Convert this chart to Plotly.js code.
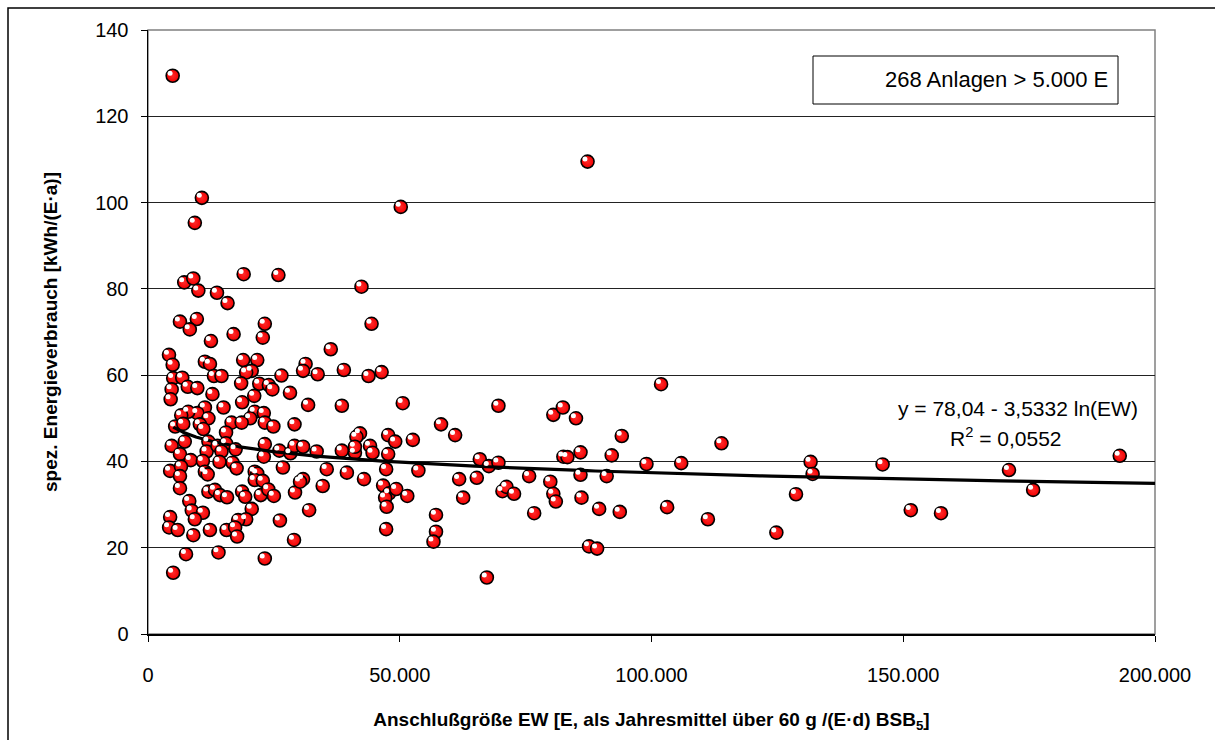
<!DOCTYPE html>
<html>
<head>
<meta charset="utf-8">
<script src="https://cdn.plot.ly/plotly-3.0.1.min.js"></script>
<style>
  html, body { margin: 0; padding: 0; background: #fff; }
  #chart { width: 1215px; height: 740px; }
</style>
</head>
<body>
<div id="chart"></div>
<script>
// Anschlußgröße EW (Einwohnerwerte)
const ew = [
  4900, 10700, 9300,
  7200, 9000, 10000, 13700, 15800, 19000, 25900, 6350, 9700, 8300, 12500, 17000, 23200, 22800,
  4170, 4900, 11300, 12300, 18900, 21700, 20600, 19500, 13100, 14600, 26500,
  5000, 6800, 4700, 7900, 9800, 4500, 12800, 18500, 22100, 24000, 24700, 28200, 21100, 18700,
  11300, 15000, 9800, 8000, 6600, 12000, 21200, 23000, 20300, 29100, 5400, 10300, 16600, 18600, 23200, 24900,
  7000, 11000, 15500, 4700, 7300, 6350, 12000, 11650, 13800, 15500, 14600, 17400, 23200, 23000, 26100, 28300, 29100,
  8500, 10900, 14200, 16800, 17600, 4400, 6550, 6350, 11300, 11850, 21200, 21700, 21200, 22800, 26800,
  6350, 12000, 13300, 14300, 15700, 18700, 19300, 22400, 23900, 25000, 29200,
  8200, 8700, 10900, 9300, 20600, 19500, 17900, 4400, 4200, 5900, 9000, 12300, 15600, 17300, 17700, 26200, 29000,
  7550, 14000, 23200, 5000,
  42400, 44400, 36300, 31300, 30800, 33700, 38900, 43800, 46400, 31800, 38500, 50600, 58200, 61000,
  42100, 41400, 47700, 52600, 49100, 30800, 33500, 38500, 41100, 41100, 44100, 44600, 47700,
  35500, 39500, 42900, 47300, 53700, 30800, 30200, 34700, 46700, 47900, 49300, 47100, 51500, 47400, 32000,
  61800, 65300, 62600, 65900, 67700, 47300, 57200, 57200, 56700, 67300,
  101900, 69600, 80500, 82400, 85000, 94100, 113900, 69600, 82500, 83300, 85900, 92100, 99000, 105900,
  75700, 79900, 85900, 91100, 70400, 71200, 72700, 80500, 81000, 86100, 76700, 89600, 93700, 103100,
  111200, 124800, 87600, 89200,
  131600, 132000, 128700, 145900, 151500, 157500, 171000, 175800, 193000,
  87300, 50200
];
// spez. Energieverbrauch [kWh/(E·a)]
const energie = [
  129.4, 101.1, 95.3,
  81.5, 82.4, 79.6, 79.1, 76.7, 83.4, 83.2, 72.4, 73.0, 70.6, 67.9, 69.5, 71.9, 68.7,
  64.7, 62.4, 63.1, 62.6, 63.5, 63.5, 61.0, 60.6, 59.8, 59.8, 59.9,
  59.3, 59.4, 56.7, 57.3, 57.0, 54.4, 55.6, 58.1, 58.0, 57.7, 56.7, 55.9, 55.2, 53.7,
  52.5, 52.5, 51.2, 51.5, 50.7, 50.0, 51.5, 51.2, 50.0, 48.6, 48.1, 48.6, 49.0, 49.0, 49.0, 48.1,
  48.7, 47.5, 46.7, 43.6, 44.6, 41.7, 44.6, 42.3, 43.6, 44.2, 42.3, 42.8, 44.0, 41.1, 42.5, 41.9, 43.6,
  40.3, 40.1, 39.9, 39.7, 38.4, 37.8, 38.8, 36.6, 37.6, 37.0, 37.6, 37.2, 35.7, 35.5, 38.6,
  33.8, 33.0, 33.4, 32.2, 31.7, 33.0, 31.8, 32.2, 33.5, 32.0, 32.8,
  30.8, 28.6, 28.1, 26.6, 29.0, 26.6, 26.4, 27.1, 24.7, 24.1, 22.9, 24.1, 24.1, 24.7, 22.6, 26.3, 21.8,
  18.5, 18.9, 17.5, 14.2,
  80.5, 71.9, 66.0, 62.6, 61.0, 60.2, 61.2, 59.8, 60.7, 53.1, 52.9, 53.5, 48.6, 46.1,
  46.5, 45.7, 46.1, 45.0, 44.6, 43.4, 42.3, 42.5, 42.0, 43.4, 43.6, 42.0, 41.7,
  38.2, 37.4, 35.9, 38.2, 37.9, 35.9, 35.3, 34.3, 34.4, 32.6, 33.6, 31.6, 32.0, 29.5, 28.7,
  35.9, 36.2, 31.6, 40.5, 38.9, 24.3, 27.6, 23.7, 21.4, 13.1,
  57.9, 52.9, 50.8, 52.5, 50.0, 45.9, 44.2, 39.7, 41.1, 41.0, 42.1, 41.4, 39.4, 39.6,
  36.6, 35.3, 36.9, 36.6, 33.1, 34.1, 32.5, 32.5, 30.7, 31.6, 28.0, 29.0, 28.3, 29.4,
  26.6, 23.5, 20.3, 19.8,
  39.9, 37.1, 32.4, 39.3, 28.7, 28.0, 38.0, 33.4, 41.3,
  109.5, 99.0
];

// logarithmic trendline as printed in the chart: y = 78,04 - 3,5332 ln(EW)
const trendA = 78.04;
const trendB = 3.5332;
const trendStart = 5000;
const trendEnd = 200000;
const trendX = [];
const trendY = [];
for (let i = 0; i <= 200; i++) {
  const x = trendStart * Math.pow(trendEnd / trendStart, i / 200);
  trendX.push(x);
  trendY.push(trendA - trendB * Math.log(x));
}

const yTicks = [0, 20, 40, 60, 80, 100, 120, 140];
const xTicks = [0, 50000, 100000, 150000, 200000];
const xTickText = ['0', '50.000', '100.000', '150.000', '200.000'];

const font = 'Liberation Sans, Arial, sans-serif';
const xRange = [0, 200000];
const yRange = [0, 140];
// highlight offset (pixel shift for the sphere gloss)
const pxX = (xRange[1] - xRange[0]) / 1007;
const pxY = (yRange[1] - yRange[0]) / 604;
const hx = 2.6 * pxX, hy = 2.6 * pxY;

const traces = [
  {
    x: ew, y: energie, type: 'scatter', mode: 'markers',
    marker: { size: 13, color: '#f00000',
              gradient: { type: 'radial', color: '#ff2a2a' },
              line: { color: '#000', width: 1.6 } },
    hoverinfo: 'x+y', showlegend: false
  },
  {
    x: ew, y: energie, type: 'scatter', mode: 'markers',
    xaxis: 'x2', yaxis: 'y2',
    marker: { size: 5, color: '#ffffff', line: { width: 0 } },
    hoverinfo: 'skip', showlegend: false
  },
  {
    x: trendX, y: trendY, type: 'scatter', mode: 'lines',
    line: { color: '#000', width: 3.2 },
    hoverinfo: 'skip', showlegend: false
  }
];

const layout = {
  width: 1215, height: 740,
  margin: { l: 148, r: 60, t: 30, b: 106 },
  paper_bgcolor: '#fff', plot_bgcolor: '#fff',
  font: { family: font, color: '#000', size: 20 },
  showlegend: false,
  xaxis: {
    range: xRange, tickvals: xTicks, ticktext: xTickText,
    showgrid: false, zeroline: false,
    showline: true, linecolor: '#000', linewidth: 1.5,
    ticks: 'outside', ticklen: 6, tickcolor: '#000', tickwidth: 1,
    ticklabelstandoff: 16,
    tickfont: { size: 20, family: font },
    title: { text: '<b>Anschlußgröße EW [E, als Jahresmittel über 60 g /(E·d) BSB<sub>5</sub>]</b>',
             font: { size: 19, family: font }, standoff: 28 },
    automargin: false
  },
  yaxis: {
    range: yRange, tickvals: yTicks,
    showgrid: true, gridcolor: '#222', gridwidth: 1,
    zeroline: false,
    showline: true, linecolor: '#000', linewidth: 1.5,
    ticks: 'outside', ticklen: 6, tickcolor: '#000', tickwidth: 1,
    ticklabelstandoff: 8,
    tickfont: { size: 20, family: font },
    title: { text: '<b>spez. Energieverbrauch [kWh/(E·a)]</b>',
             font: { size: 19, family: font }, standoff: 32 },
    automargin: false
  },
  xaxis2: { range: [xRange[0] + hx, xRange[1] + hx], overlaying: 'x', visible: false, showgrid: false },
  yaxis2: { range: [yRange[0] - hy, yRange[1] - hy], overlaying: 'y', visible: false, showgrid: false },
  shapes: [
    // plot area frame
    { type: 'rect', xref: 'paper', yref: 'paper', x0: 0, x1: 1, y0: 0, y1: 1,
      line: { color: '#808080', width: 1.5 }, layer: 'below' },
    // outer chart frame (right and bottom edges lie outside the picture)
    { type: 'rect', xref: 'paper', yref: 'paper', x0: (8 - 148) / 1007, x1: (1225 - 148) / 1007,
      y0: (634 - 750) / 604, y1: (634 - 8) / 604,
      line: { color: '#000', width: 1.5 } },
    // box for count annotation
    { type: 'rect', xref: 'paper', yref: 'paper', x0: (813 - 148) / 1007, x1: (1118 - 148) / 1007,
      y0: (634 - 104) / 604, y1: (634 - 56) / 604, line: { color: '#000', width: 1 }, fillcolor: '#fff' }
  ],
  annotations: [
    { xref: 'paper', yref: 'paper', x: (1110 - 148) / 1007, y: (634 - 80) / 604,
      xanchor: 'right', yanchor: 'middle', showarrow: false,
      text: '268 Anlagen > 5.000 E', font: { size: 22, family: font } },
    { xref: 'paper', yref: 'paper', x: (1140 - 148) / 1007, y: (634 - 408) / 604,
      xanchor: 'right', yanchor: 'middle', showarrow: false,
      text: 'y = 78,04 - 3,5332 ln(EW)', font: { size: 21, family: font } },
    { xref: 'paper', yref: 'paper', x: (1064 - 148) / 1007, y: (634 - 437) / 604,
      xanchor: 'right', yanchor: 'middle', showarrow: false,
      text: 'R<sup>2</sup> = 0,0552', font: { size: 21, family: font } }
  ]
};

Plotly.newPlot('chart', traces, layout, { displayModeBar: false, staticPlot: true });
</script>
</body>
</html>
